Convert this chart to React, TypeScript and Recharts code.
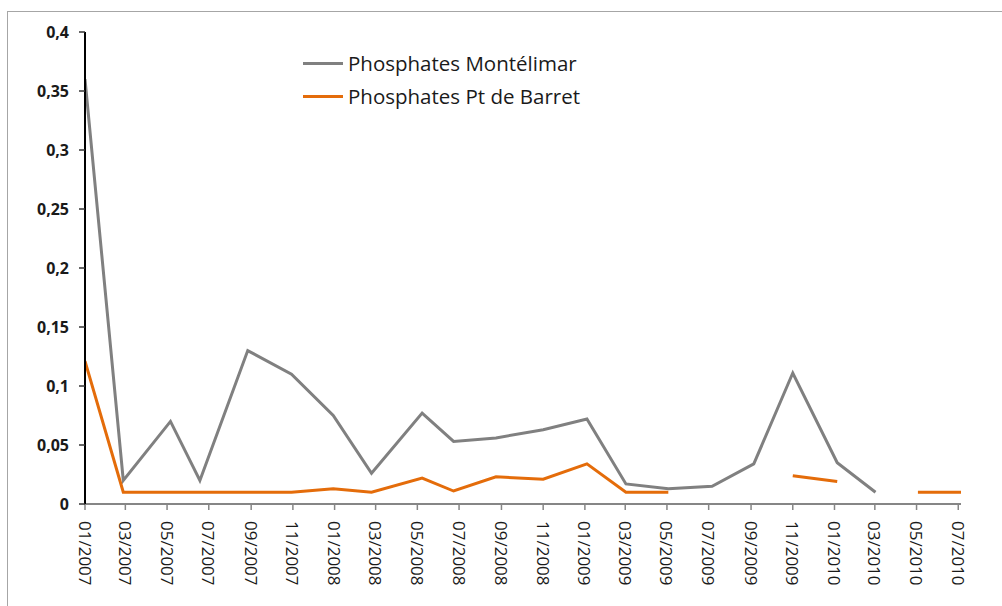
import React from 'react';
import { LineChart, Line, XAxis, YAxis } from 'recharts';

const sampleDates = [
  '2007-01-01', '2007-02-26', '2007-05-06', '2007-06-18', '2007-08-27', '2007-10-30',
  '2007-12-30', '2008-02-24', '2008-05-08', '2008-06-23', '2008-08-24', '2008-11-01',
  '2009-01-04', '2009-03-02', '2009-05-03', '2009-07-06', '2009-09-05', '2009-11-01',
  '2010-01-05', '2010-03-02', '2010-05-03', '2010-07-05',
];

const montelimar: (number | null)[] = [
  0.36, 0.02, 0.07, 0.02, 0.13, 0.11,
  0.075, 0.026, 0.077, 0.053, 0.056, 0.063,
  0.072, 0.017, 0.013, 0.015, 0.034, 0.111,
  0.035, 0.01, null, null,
];

const barret: (number | null)[] = [
  0.121, 0.01, 0.01, 0.01, 0.01, 0.01,
  0.013, 0.01, 0.022, 0.011, 0.023, 0.021,
  0.034, 0.01, 0.01, null, null, 0.024,
  0.019, null, 0.01, 0.01,
];

const tickLabels = [
  '01/2007', '03/2007', '05/2007', '07/2007', '09/2007', '11/2007',
  '01/2008', '03/2008', '05/2008', '07/2008', '09/2008', '11/2008',
  '01/2009', '03/2009', '05/2009', '07/2009', '09/2009', '11/2009',
  '01/2010', '03/2010', '05/2010', '07/2010',
];

const yTicks = [0, 0.05, 0.1, 0.15, 0.2, 0.25, 0.3, 0.35, 0.4];

const seriesNames = ['Phosphates Montélimar', 'Phosphates Pt de Barret'];
const seriesColors = ['#808080', '#E46C0A'];

const toTs = (s: string) => {
  const [y, m, d] = s.split('-').map(Number);
  return Date.UTC(y, m - 1, d);
};

const labelToTs = (l: string) => {
  const [m, y] = l.split('/').map(Number);
  return Date.UTC(y, m - 1, 1);
};

const data = sampleDates.map((d, i) => ({
  t: toTs(d),
  a: montelimar[i],
  b: barret[i],
}));

const tickTs = tickLabels.map(labelToTs);
const tsToLabel: Record<number, string> = {};
tickLabels.forEach((l, i) => { tsToLabel[tickTs[i]] = l; });

const FONT = 'Open Sans, sans-serif';

const XTick = (props: any) => {
  const { x, y, payload } = props;
  return (
    <text
      x={0}
      y={0}
      transform={`translate(${x},${y + 9}) rotate(90)`}
      textAnchor="start"
      dominantBaseline="central"
      fontFamily={FONT}
      fontSize={17}
      fill="#1a1a1a"
    >
      {tsToLabel[payload.value]}
    </text>
  );
};

const fmtY = (v: number) => (v === 0 ? '0' : String(v).replace('.', ','));

export default function App() {
  return (
    <div style={{ position: 'absolute', left: 0, top: 0, width: 1002, height: 606, overflow: 'hidden', background: '#fff' }}>
      <div style={{ position: 'absolute', left: 7, top: 11, width: 1100, height: 700, border: '1.5px solid #a6a6a6', boxSizing: 'border-box' }} />
      <LineChart
        width={1002}
        height={606}
        data={data}
        margin={{ top: 32, right: 41, left: 0, bottom: 0 }}
        style={{ position: 'absolute', left: 0, top: 0 }}
      >
        <XAxis
          dataKey="t"
          type="number"
          scale="linear"
          domain={['dataMin', 'dataMax']}
          ticks={tickTs}
          interval={0}
          height={102}
          axisLine={{ stroke: '#868686', strokeWidth: 2 }}
          tickLine={{ stroke: '#868686', strokeWidth: 1.5 }}
          tickSize={6}
          tick={<XTick />}
          allowDataOverflow
        />
        <YAxis
          type="number"
          domain={[0, 0.4]}
          ticks={yTicks}
          interval={0}
          width={85}
          axisLine={{ stroke: '#000', strokeWidth: 2 }}
          tickLine={{ stroke: '#333', strokeWidth: 1.5 }}
          tickSize={6}
          tickMargin={10}
          tickFormatter={fmtY}
          tick={{ fontFamily: FONT, fontSize: 16, fontWeight: 700, fill: '#1a1a1a' }}
        />
        <Line
          dataKey="a"
          name={seriesNames[0]}
          stroke={seriesColors[0]}
          strokeWidth={3}
          dot={false}
          activeDot={false}
          isAnimationActive={false}
        />
        <Line
          dataKey="b"
          name={seriesNames[1]}
          stroke={seriesColors[1]}
          strokeWidth={3}
          dot={false}
          activeDot={false}
          isAnimationActive={false}
        />
      </LineChart>
      <div style={{ position: 'absolute', left: 303, top: 47, fontFamily: FONT, fontSize: 20.5, color: '#1a1a1a', lineHeight: '33px' }}>
        {seriesNames.map((n, i) => (
          <div key={n} style={{ display: 'flex', alignItems: 'center', height: 33 }}>
            <div style={{ width: 40, height: 3, background: seriesColors[i], marginRight: 5 }} />
            <span style={{ whiteSpace: 'nowrap' }}>{n}</span>
          </div>
        ))}
      </div>
    </div>
  );
}
